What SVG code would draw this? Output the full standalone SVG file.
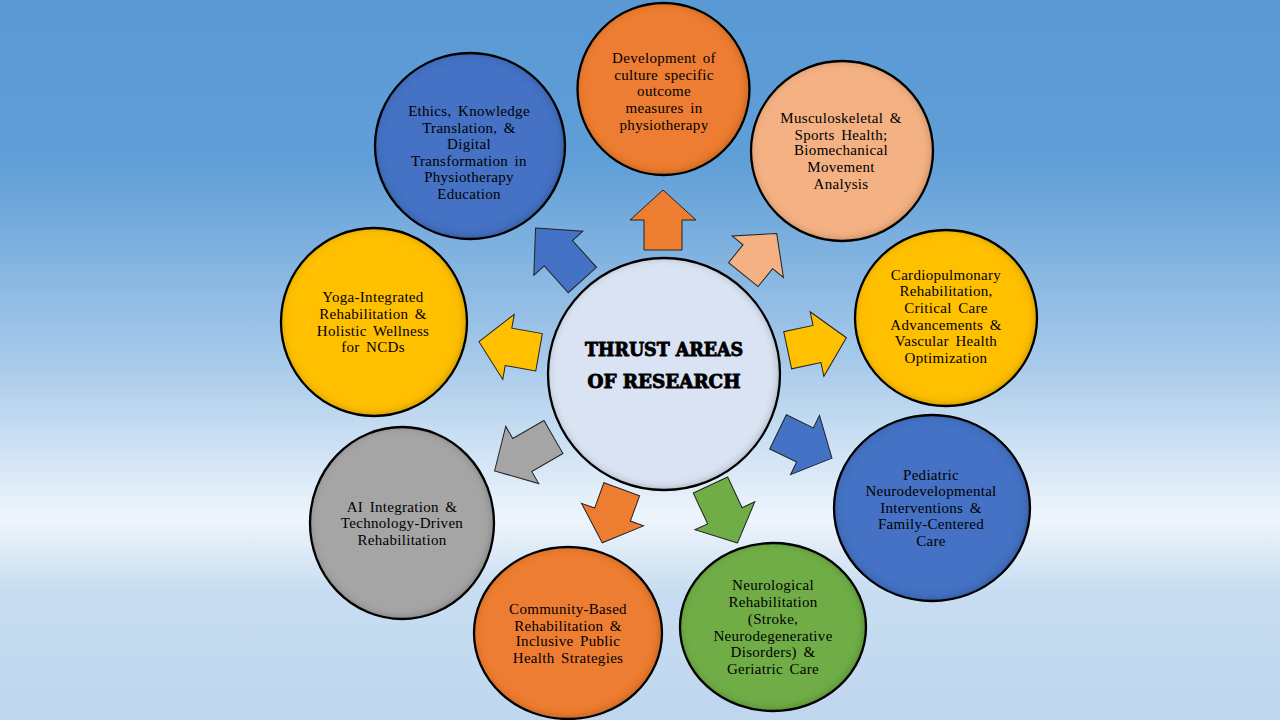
<svg xmlns="http://www.w3.org/2000/svg" width="1280" height="720" viewBox="0 0 1280 720">
  <defs>
    <linearGradient id="bg" x1="0" y1="0" x2="0" y2="1">
      <stop offset="0" stop-color="#5a99d4"/>
      <stop offset="0.22" stop-color="#5f9ed7"/>
      <stop offset="0.5" stop-color="#a6c9ea"/>
      <stop offset="0.72" stop-color="#eef5fc"/>
      <stop offset="0.82" stop-color="#c8ddf1"/>
      <stop offset="1" stop-color="#bed6ee"/>
    </linearGradient>
    <!-- soft shading just inside each disc edge -->
    <filter id="inset" x="-10%" y="-10%" width="120%" height="120%">
      <feGaussianBlur in="SourceAlpha" stdDeviation="4" result="blur"/>
      <feOffset in="blur" dx="-1.5" dy="-1.5" result="shift"/>
      <feComposite in="SourceAlpha" in2="shift" operator="arithmetic" k2="1" k3="-1" result="edge"/>
      <feFlood flood-color="#000" flood-opacity="0.55"/>
      <feComposite in2="edge" operator="in" result="shade"/>
      <feMerge>
        <feMergeNode in="SourceGraphic"/>
        <feMergeNode in="shade"/>
      </feMerge>
    </filter>
  </defs>
  <style>
    .disc { filter: url(#inset); }
    .ring { fill: none; stroke: #000; stroke-width: 2.3; }
    .lbl { font-family: "Liberation Serif", "Times New Roman", serif; font-size: 15px; letter-spacing: 0.3px; fill: #000; text-anchor: middle; word-spacing: 2.5px; }
    .title { font-family: "DejaVu Serif", "Liberation Serif", serif; font-weight: bold; font-size: 18px; fill: #000; stroke: #000; stroke-width: 0.9; text-anchor: middle; }
    .arr { stroke: #222; stroke-width: 1; stroke-linejoin: miter; }
    .orange { fill: #ed7d31; }
    .peach { fill: #f4b183; }
    .gold { fill: #ffc000; }
    .blue { fill: #4472c4; }
    .green { fill: #70ad47; }
    .grey { fill: #a5a5a5; }
  </style>

  <rect width="1280" height="720" fill="url(#bg)"/>

  <!-- block arrows radiating from the hub -->
  <g id="connectors">
    <path class="arr orange" transform="translate(663,220) rotate(0)" d="M0,-30 L33,0 L19,0 L19,30 L-19,30 L-19,0 L-33,0 Z"/>
    <path class="arr peach" transform="translate(760,254) rotate(39)" d="M0,-26.5 L33,3.5 L19,3.5 L19,26.5 L-19,26.5 L-19,3.5 L-33,3.5 Z"/>
    <path class="arr gold" transform="translate(817,344) rotate(78)" d="M0,-30 L33,0 L19,0 L19,30 L-19,30 L-19,0 L-33,0 Z"/>
    <path class="arr blue" transform="translate(805,445) rotate(116)" d="M0,-30 L33,0 L19,0 L19,30 L-19,30 L-19,0 L-33,0 Z"/>
    <path class="arr green" transform="translate(724,514) rotate(155)" d="M0,-32 L33,-2 L19,-2 L19,32 L-19,32 L-19,-2 L-33,-2 Z"/>
    <path class="arr orange" transform="translate(612,516) rotate(200)" d="M0,-28.5 L33,1.5 L19,1.5 L19,28.5 L-19,28.5 L-19,1.5 L-33,1.5 Z"/>
    <path class="arr grey" transform="translate(524,454) rotate(240)" d="M0,-34 L33,-2 L19,-2 L19,34 L-19,34 L-19,-2 L-33,-2 Z"/>
    <path class="arr gold" transform="translate(509,347) rotate(280)" d="M0,-30.5 L33,-0.5 L19,-0.5 L19,30.5 L-19,30.5 L-19,-0.5 L-33,-0.5 Z"/>
    <path class="arr blue" transform="translate(559,254) rotate(318)" d="M0,-35 L33,-1 L19,-1 L19,35 L-19,35 L-19,-1 L-33,-1 Z"/>
  </g>

  <!-- hub -->
  <g id="hub">
    <circle class="disc" cx="664" cy="374" r="116" fill="#dae3f3"/>
    <circle class="ring" cx="664" cy="374" r="116"/>
    <text class="title" x="664" y="355.5" textLength="158" lengthAdjust="spacingAndGlyphs">THRUST AREAS</text>
    <text class="title" x="664" y="387.5" textLength="153" lengthAdjust="spacingAndGlyphs">OF RESEARCH</text>
  </g>

  <g id="outcome-measures">
    <ellipse class="disc orange" cx="663.5" cy="89" rx="86" ry="86"/>
    <ellipse class="ring" cx="663.5" cy="89" rx="86" ry="86"/>
    <text class="lbl" x="664" y="63">Development of</text>
    <text class="lbl" x="664" y="79.5">culture specific</text>
    <text class="lbl" x="664" y="96.2">outcome</text>
    <text class="lbl" x="664" y="112.8">measures in</text>
    <text class="lbl" x="664" y="129.5">physiotherapy</text>
  </g>

  <g id="musculoskeletal">
    <ellipse class="disc peach" cx="842" cy="151" rx="91" ry="90"/>
    <ellipse class="ring" cx="842" cy="151" rx="91" ry="90"/>
    <text class="lbl" x="841" y="123">Musculoskeletal &amp;</text>
    <text class="lbl" x="841" y="139.6">Sports Health;</text>
    <text class="lbl" x="841" y="155.3">Biomechanical</text>
    <text class="lbl" x="841" y="172">Movement</text>
    <text class="lbl" x="841" y="188.7">Analysis</text>
  </g>

  <g id="cardiopulmonary">
    <ellipse class="disc gold" cx="946" cy="318" rx="91" ry="88"/>
    <ellipse class="ring" cx="946" cy="318" rx="91" ry="88"/>
    <text class="lbl" x="946" y="279.5">Cardiopulmonary</text>
    <text class="lbl" x="946" y="296.2">Rehabilitation,</text>
    <text class="lbl" x="946" y="313.4">Critical Care</text>
    <text class="lbl" x="946" y="330.2">Advancements &amp;</text>
    <text class="lbl" x="946" y="346.2">Vascular Health</text>
    <text class="lbl" x="946" y="362.8">Optimization</text>
  </g>

  <g id="pediatric">
    <ellipse class="disc blue" cx="932" cy="508" rx="98" ry="93"/>
    <ellipse class="ring" cx="932" cy="508" rx="98" ry="93"/>
    <text class="lbl" x="931" y="479.5">Pediatric</text>
    <text class="lbl" x="931" y="496">Neurodevelopmental</text>
    <text class="lbl" x="931" y="512.5">Interventions &amp;</text>
    <text class="lbl" x="931" y="529">Family-Centered</text>
    <text class="lbl" x="931" y="545.5">Care</text>
  </g>

  <g id="neurological">
    <ellipse class="disc green" cx="773" cy="627" rx="93" ry="84"/>
    <ellipse class="ring" cx="773" cy="627" rx="93" ry="84"/>
    <text class="lbl" x="773" y="590.2">Neurological</text>
    <text class="lbl" x="773" y="607.2">Rehabilitation</text>
    <text class="lbl" x="773" y="623.8">(Stroke,</text>
    <text class="lbl" x="773" y="640.5">Neurodegenerative</text>
    <text class="lbl" x="773" y="657.2">Disorders) &amp;</text>
    <text class="lbl" x="773" y="673.8">Geriatric Care</text>
  </g>

  <g id="community">
    <ellipse class="disc orange" cx="568" cy="633" rx="94" ry="86"/>
    <ellipse class="ring" cx="568" cy="633" rx="94" ry="86"/>
    <text class="lbl" x="568" y="613.8">Community-Based</text>
    <text class="lbl" x="568" y="630.5">Rehabilitation &amp;</text>
    <text class="lbl" x="568" y="646.2">Inclusive Public</text>
    <text class="lbl" x="568" y="662.8">Health Strategies</text>
  </g>

  <g id="ai-integration">
    <ellipse class="disc grey" cx="402" cy="523" rx="92" ry="96"/>
    <ellipse class="ring" cx="402" cy="523" rx="92" ry="96"/>
    <text class="lbl" x="402" y="511.5">AI Integration &amp;</text>
    <text class="lbl" x="402" y="528">Technology-Driven</text>
    <text class="lbl" x="402" y="544.5">Rehabilitation</text>
  </g>

  <g id="yoga">
    <ellipse class="disc gold" cx="374" cy="322" rx="93" ry="94"/>
    <ellipse class="ring" cx="374" cy="322" rx="93" ry="94"/>
    <text class="lbl" x="373" y="301.8">Yoga-Integrated</text>
    <text class="lbl" x="373" y="318.5">Rehabilitation &amp;</text>
    <text class="lbl" x="373" y="335.5">Holistic Wellness</text>
    <text class="lbl" x="373" y="352.2">for NCDs</text>
  </g>

  <g id="education">
    <ellipse class="disc blue" cx="470" cy="146" rx="95" ry="93"/>
    <ellipse class="ring" cx="470" cy="146" rx="95" ry="93"/>
    <text class="lbl" x="469" y="115.5">Ethics, Knowledge</text>
    <text class="lbl" x="469" y="132.8">Translation, &amp;</text>
    <text class="lbl" x="469" y="148.8">Digital</text>
    <text class="lbl" x="469" y="165.5">Transformation in</text>
    <text class="lbl" x="469" y="181.5">Physiotherapy</text>
    <text class="lbl" x="469" y="198.5">Education</text>
  </g>
</svg>
